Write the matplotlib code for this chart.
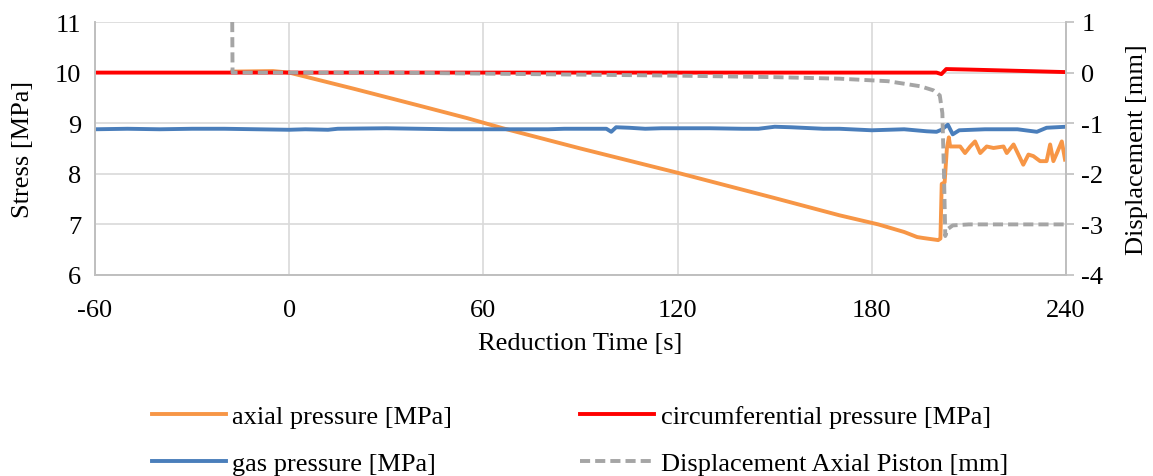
import matplotlib.pyplot as plt

plt.rcParams['font.family'] = ['Liberation Serif', 'DejaVu Serif']
plt.rcParams['font.size'] = 19
plt.rcParams['axes.unicode_minus'] = False

# gas pressure [MPa]
t_gas = [-60, -50, -40, -30, -20, -10, 0, 5, 12, 15, 30, 40, 50, 60, 70, 80, 85, 98, 99.5, 101,
         105, 110, 115, 130, 140, 145, 150, 155, 165, 170, 180, 190, 197, 200, 201.5, 203.5,
         205, 207, 215, 225, 231, 234, 240]
gas = [8.88, 8.89, 8.88, 8.89, 8.89, 8.88, 8.87, 8.88, 8.87, 8.89, 8.90, 8.89, 8.88, 8.88, 8.88,
       8.88, 8.89, 8.89, 8.83, 8.92, 8.91, 8.89, 8.90, 8.90, 8.89, 8.89, 8.93, 8.92, 8.89, 8.89,
       8.86, 8.88, 8.84, 8.83, 8.87, 8.97, 8.78, 8.86, 8.88, 8.88, 8.83, 8.91, 8.93]

# axial pressure [MPa]
t_ax = [-17.6, -5, 0, 20, 40, 55, 66, 90, 120, 150, 170, 182, 190, 194, 196, 200.5, 201.2,
        201.6, 202.5, 203.2, 203.8, 204.2, 207.3, 208.8, 210.4, 211.9, 213.5, 215.5, 217.6,
        220.7, 221.7, 223.8, 225.3, 226.8, 228.4, 229.9, 232, 234, 235.1, 236.1, 237.2,
        238.7, 239.7]
axial = [10.02, 10.03, 10.0, 9.68, 9.35, 9.1, 8.9, 8.5, 8.02, 7.52, 7.18, 7.0, 6.85, 6.75, 6.73,
         6.69, 6.72, 7.8, 7.83, 8.5, 8.72, 8.54, 8.54, 8.41, 8.54, 8.64, 8.41, 8.54, 8.51,
         8.54, 8.41, 8.58, 8.38, 8.18, 8.38, 8.35, 8.25, 8.25, 8.58, 8.25, 8.41, 8.64, 8.28]

# circumferential pressure [MPa]
t_circ = [-60, 200, 201.5, 203, 210, 240]
circ = [10.0, 10.0, 9.97, 10.07, 10.06, 10.01]

# displacement axial piston [mm]
t_disp = [-17.6, -17.5, 30, 60, 90, 120, 150, 170, 185, 195, 199, 201, 201.8, 202.3, 202.7,
          203.3, 205, 210, 240]
disp = [1.0, 0, 0, -0.02, -0.04, -0.06, -0.09, -0.12, -0.17, -0.27, -0.35, -0.45, -0.8, -2.0,
        -3.23, -3.1, -3.02, -3.0, -3.0]

fig = plt.figure(figsize=(11.53, 4.77), dpi=100)
ax = fig.add_axes([95 / 1153, 1 - 276 / 477, (1066 - 95) / 1153, (276 - 23) / 477])
ax2 = ax.twinx()

grid_c = '#D9D9D9'
lw = 2.8
l1, = ax.plot(t_ax, axial, color='#F79646', lw=lw, label='axial pressure [MPa]')
l2, = ax.plot(t_circ, circ, color='#FF0000', lw=lw, label='circumferential pressure [MPa]')
l3, = ax.plot(t_gas, gas, color='#4A7EBB', lw=lw, label='gas pressure [MPa]')
l4, = ax2.plot(t_disp, disp, color='#A5A5A5', lw=lw, ls=(0, (2.6, 1.3)),
               label='Displacement Axial Piston [mm]')

ax.set_xlim(-60, 240)
ax.set_ylim(6, 11)
ax2.set_ylim(-4, 1)
ax.set_xticks(range(-60, 241, 60))
ax.set_yticks(range(6, 12))
ax2.set_yticks(range(-4, 2))
ax.grid(True, color=grid_c, lw=1.2)
ax.set_axisbelow(True)

for a in (ax, ax2):
    for s in a.spines.values():
        s.set_color('#BFBFBF')
        s.set_linewidth(1.2)
    a.spines['top'].set_visible(False)
ax.tick_params(axis='y', length=0, pad=10)
ax.tick_params(axis='x', length=0, pad=17)
ax2.tick_params(axis='y', length=6, color='#BFBFBF', width=1.2, pad=5)

ax.set_xlabel('Reduction Time [s]', labelpad=8)
ax.set_ylabel('Stress [MPa]', labelpad=15)
ax2.set_ylabel('Displacement [mm]', labelpad=16)

fig.legend([l1, l3, l2, l4], [l1.get_label(), l3.get_label(), l2.get_label(), l4.get_label()],
           loc='upper center', bbox_to_anchor=(0.503, 0.2), ncol=2, frameon=False,
           handlelength=2.8, columnspacing=4.85, labelspacing=0.9, handletextpad=0.25)

fig.savefig('out.png', dpi=100)
